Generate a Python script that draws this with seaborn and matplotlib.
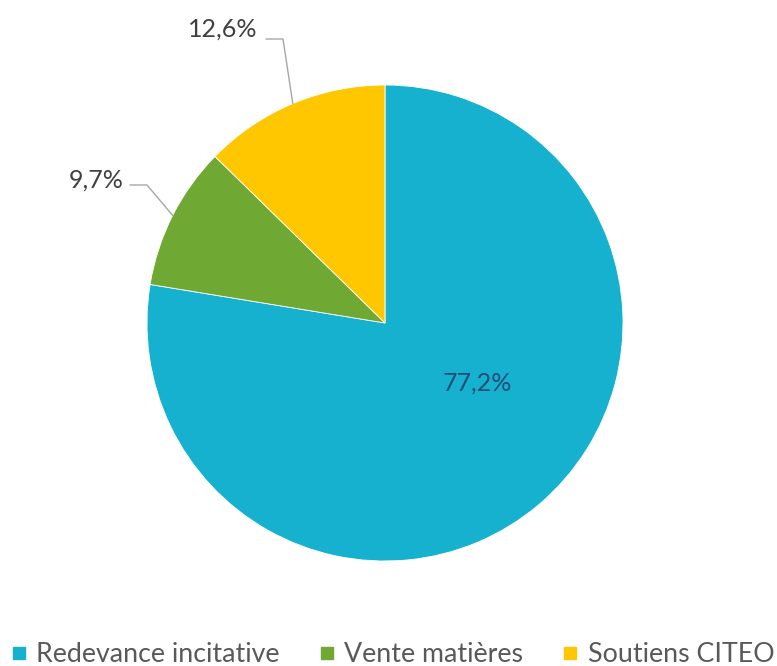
import numpy as np
import matplotlib
matplotlib.use("Agg")
import matplotlib.pyplot as plt
import seaborn as sns
from matplotlib.lines import Line2D

categories = ["Redevance incitative", "Vente matières", "Soutiens CITEO"]
shares = [77.2, 9.7, 12.6]
colors = ["#17B1D0", "#6FA832", "#FFC700"]
labels = ["77,2%", "9,7%", "12,6%"]

sns.set_theme(style="white")
plt.rcParams['font.family'] = ['Lato', 'DejaVu Sans']

W, H = 777, 666
cx, cy, r = 385, 323, 238
fig = plt.figure(figsize=(W / 100, H / 100), dpi=100)
ax = fig.add_axes([(cx - r) / W, (H - cy - r) / H, 2 * r / W, 2 * r / H])

wedges, _ = ax.pie(shares, colors=colors, startangle=90, counterclock=False,
                   radius=1, wedgeprops=dict(linewidth=0.6, edgecolor="white"))
ax.set_xlim(-1, 1)
ax.set_ylim(-1, 1)
ax.set_aspect("equal")
ax.axis("off")

def px(x, y):
    return (x - cx) / r, (cy - y) / r

txt_col = "#404040"
# label inside the big slice
ax.text(*px(477, 383), labels[0], ha="center", va="center", fontsize=18, color="#1F4E79")

# outside labels with leader lines
outside = {1: ((96, 180), (130, 185), (147, 185)),
           2: ((223, 29), (266, 39), (283, 39))}
for i, (tpos, p0, p1) in outside.items():
    w = wedges[i]
    mid = np.deg2rad((w.theta1 + w.theta2) / 2)
    ex, ey = 1.0 * np.cos(mid), 1.0 * np.sin(mid)
    pts = [px(*p0), px(*p1), (ex, ey)]
    ax.plot([p[0] for p in pts], [p[1] for p in pts], color="#A6A6A6", lw=1, clip_on=False)
    ax.text(*px(*tpos), labels[i], ha="center", va="center", fontsize=18, color=txt_col)

handles = [Line2D([], [], marker="s", linestyle="none", markersize=8.5,
                  markerfacecolor=c, markeredgecolor=c) for c in colors]
fig.legend(handles, categories, loc="center", bbox_to_anchor=(0.5 + 4 / W, 1 - 655 / H),
           ncol=3, frameon=False, fontsize=19.3, handletextpad=0.35, columnspacing=1.45,
           handlelength=0.6, labelcolor="#595959")

fig.savefig("out.png", dpi=100)
